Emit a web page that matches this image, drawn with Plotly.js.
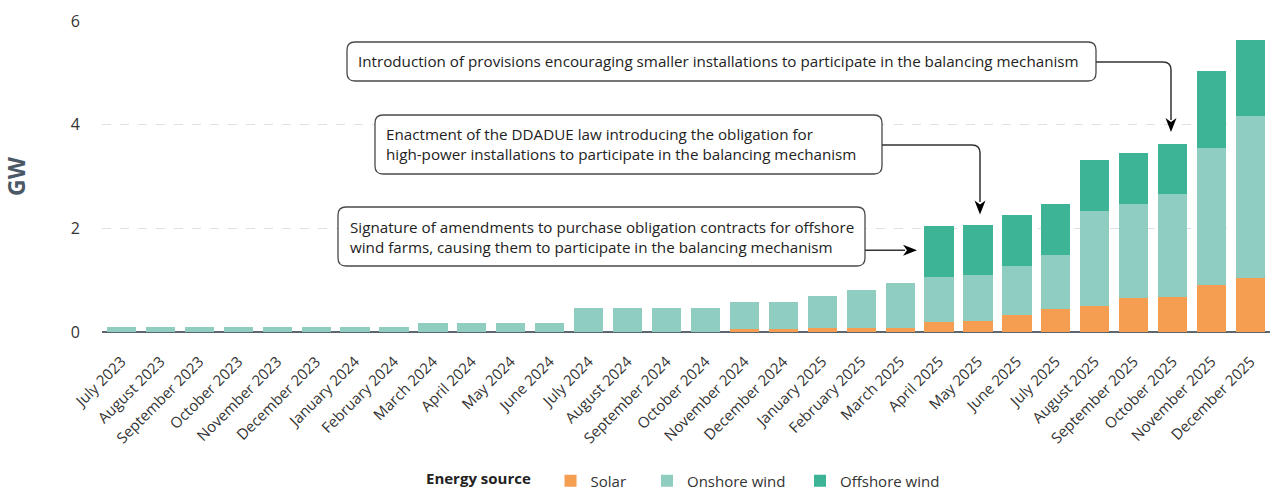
<!DOCTYPE html>
<html>
<head>
<meta charset="utf-8">
<script src="https://cdn.plot.ly/plotly-3.0.1.min.js"></script>
<style>html,body{margin:0;padding:0;background:#fff;}#chart{width:1275px;height:490px;}</style>
</head>
<body>
<div id="chart"></div>
<script>
const months = ["July 2023","August 2023","September 2023","October 2023","November 2023","December 2023",
  "January 2024","February 2024","March 2024","April 2024","May 2024","June 2024",
  "July 2024","August 2024","September 2024","October 2024","November 2024","December 2024",
  "January 2025","February 2025","March 2025","April 2025","May 2025","June 2025",
  "July 2025","August 2025","September 2025","October 2025","November 2025","December 2025"];
const solar = [0,0,0,0,0,0, 0,0,0,0,0,0, 0,0,0,0,0.05,0.05, 0.08,0.08,0.08,0.20,0.21,0.33, 0.44,0.51,0.66,0.67,0.91,1.05];
const onshore = [0.09,0.09,0.09,0.09,0.09,0.09, 0.09,0.09,0.17,0.17,0.17,0.17, 0.46,0.46,0.46,0.46,0.53,0.53, 0.61,0.73,0.86,0.86,0.89,0.94, 1.04,1.82,1.81,1.99,2.64,3.11];
const offshore = [0,0,0,0,0,0, 0,0,0,0,0,0, 0,0,0,0,0,0, 0,0,0,0.98,0.96,0.98, 0.99,0.98,0.98,0.96,1.48,1.47];
const seriesNames = ["Solar","Onshore wind","Offshore wind"];
const legendTitle = "Energy source";
const yTitle = "GW";
const notes = [
  "Introduction of provisions encouraging smaller installations to participate in the balancing mechanism",
  "Enactment of the DDADUE law introducing the obligation for<br>high-power installations to participate in the balancing mechanism",
  "Signature of amendments to purchase obligation contracts for offshore<br>wind farms, causing them to participate in the balancing mechanism"
];

const W = 1275, H = 490, ML = 102, MR = 5, MT = 21, MB = 158;
const PW = W - ML - MR, PH = H - MT - MB, PB = H - MB;
const X = p => (p - ML) / PW;
const Y = p => (PB - p) / PH;
const CX = p => p / W;
const CY = p => 1 - p / H;
const FONT = "Open Sans, Noto Sans, sans-serif";

function rrect(x0, y0, x1, y1, r) {
  const pts = [
    ["M", x0 + r, y0], ["L", x1 - r, y0], ["Q", x1, y0, x1, y0 + r], ["L", x1, y1 - r],
    ["Q", x1, y1, x1 - r, y1], ["L", x0 + r, y1], ["Q", x0, y1, x0, y1 - r], ["L", x0, y0 + r],
    ["Q", x0, y0, x0 + r, y0]
  ];
  return pts.map(s => {
    let out = s[0];
    for (let i = 1; i < s.length; i += 2) out += " " + X(s[i]) + "," + Y(s[i + 1]);
    return out;
  }).join(" ") + " Z";
}
function poly(pts, close) {
  return pts.map((p, i) => (i ? "L " : "M ") + X(p[0]) + "," + Y(p[1])).join(" ") + (close ? " Z" : "");
}
function elbow(x0, y0, xc, y1, r) {
  return "M " + X(x0) + "," + Y(y0) + " L " + X(xc - r) + "," + Y(y0) +
    " Q " + X(xc) + "," + Y(y0) + " " + X(xc) + "," + Y(y0 + r) +
    " L " + X(xc) + "," + Y(y1);
}

const boxLine = {color: "#4a4a4a", width: 1.3};
const connLine = {color: "#333333", width: 1.5};
const shapes = [
  {type: "path", xref: "paper", yref: "paper", path: rrect(347, 42, 1096, 81, 8), line: boxLine, fillcolor: "rgba(255,255,255,1)", layer: "above"},
  {type: "path", xref: "paper", yref: "paper", path: rrect(375, 115, 882, 174, 8), line: boxLine, fillcolor: "rgba(255,255,255,1)", layer: "above"},
  {type: "path", xref: "paper", yref: "paper", path: rrect(338, 207, 865, 266, 8), line: boxLine, fillcolor: "rgba(255,255,255,1)", layer: "above"},
  {type: "path", xref: "paper", yref: "paper", path: elbow(1096, 62, 1171, 120, 8), line: connLine, layer: "above"},
  {type: "path", xref: "paper", yref: "paper", path: elbow(882, 145, 980, 202, 8), line: connLine, layer: "above"},
  {type: "path", xref: "paper", yref: "paper", path: poly([[865, 250.3], [905, 250.3]]), line: connLine, layer: "above"},
  {type: "path", xref: "paper", yref: "paper", path: poly([[1165.5, 118], [1171, 122], [1176.5, 118], [1171, 132]], true), line: {width: 0}, fillcolor: "#000", layer: "above"},
  {type: "path", xref: "paper", yref: "paper", path: poly([[974.5, 200.5], [980, 204.5], [985.5, 200.5], [980, 214.5]], true), line: {width: 0}, fillcolor: "#000", layer: "above"},
  {type: "path", xref: "paper", yref: "paper", path: poly([[903, 244.8], [907, 250.3], [903, 255.8], [917, 250.3]], true), line: {width: 0}, fillcolor: "#000", layer: "above"}
];

const noteFont = {family: FONT, size: 15.2, color: "#222"};
const annotations = [
  {xref: "paper", yref: "paper", x: X(356), y: Y(61), xanchor: "left", yanchor: "middle", align: "left", showarrow: false, text: notes[0], font: noteFont},
  {xref: "paper", yref: "paper", x: X(384), y: Y(144), xanchor: "left", yanchor: "middle", align: "left", showarrow: false, text: notes[1], font: noteFont},
  {xref: "paper", yref: "paper", x: X(348), y: Y(236.5), xanchor: "left", yanchor: "middle", align: "left", showarrow: false, text: notes[2], font: noteFont}
];

const colors = ["#f59e51", "#8fcdc0", "#3db495"];
const vals = [solar, onshore, offshore];
const legendIds = ["legend", "legend2", "legend3"];
const data = vals.map((v, i) => ({
  type: "bar", x: months, y: v, name: seriesNames[i], legend: legendIds[i],
  marker: {color: colors[i], line: {width: 0}}, hoverinfo: "x+y+name"
}));

const legFont = {family: FONT, size: 15, color: "#333"};
function leg(xpx, extra) {
  return Object.assign({
    orientation: "h", xref: "container", yref: "container",
    x: CX(xpx), xanchor: "left", y: CY(481), yanchor: "middle",
    font: legFont, bgcolor: "rgba(0,0,0,0)", borderwidth: 0,
    itemclick: false, itemdoubleclick: false
  }, extra || {});
}

const layout = {
  width: W, height: H,
  margin: {l: ML, r: MR, t: MT, b: MB, pad: 0},
  paper_bgcolor: "#fff", plot_bgcolor: "#fff",
  barmode: "stack", bargap: 0.25,
  font: {family: FONT, color: "#333"},
  xaxis: {
    type: "category", tickangle: -45, tickfont: {family: FONT, size: 15, color: "#333"},
    showgrid: false, ticks: "outside", ticklen: 14, tickcolor: "rgba(0,0,0,0)",
    showline: false, automargin: false
  },
  yaxis: {
    range: [0, 6], dtick: 2, tick0: 0,
    tickfont: {family: FONT, size: 16, color: "#333"},
    ticks: "outside", ticklen: 18, tickcolor: "rgba(0,0,0,0)",
    showgrid: true, gridcolor: "#dde1e7", griddash: "dash", gridwidth: 1,
    zeroline: true, zerolinecolor: "#5b6670", zerolinewidth: 1.5,
    showline: false, automargin: false,
    title: {text: yTitle, font: {family: FONT, size: 23, color: "#4b5866", weight: "bold"}, standoff: 40}
  },
  showlegend: true,
  legend: leg(424, {title: {text: "<b>" + legendTitle + "</b>&nbsp;&nbsp;&nbsp;", font: {family: FONT, size: 15, color: "#222"}, side: "left"}}),
  legend2: leg(647),
  legend3: leg(800),
  shapes: shapes,
  annotations: annotations
};

Plotly.newPlot("chart", data, layout, {displayModeBar: false, staticPlot: true});
</script>
</body>
</html>
